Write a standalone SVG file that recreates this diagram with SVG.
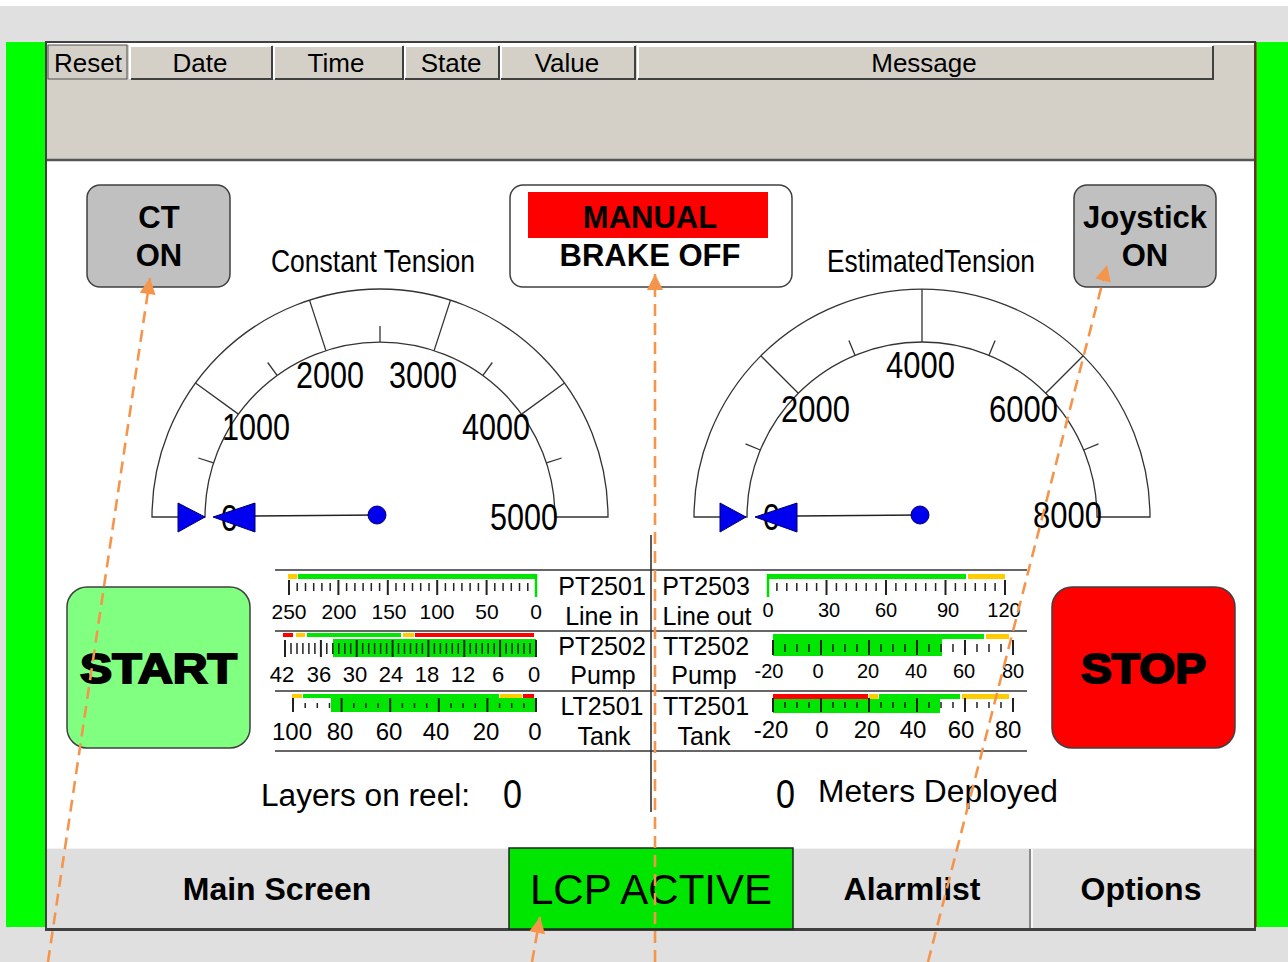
<svg xmlns="http://www.w3.org/2000/svg" width="1288" height="962" viewBox="0 0 1288 962">
  <defs>
    <style>
      text { font-family: "Liberation Sans", Arial, sans-serif; fill: #000; }
      .hdr { font-size: 26px; text-anchor: middle; }
      .btn { font-size: 31px; font-weight: bold; text-anchor: middle; }
      .nav { font-size: 32px; font-weight: bold; text-anchor: middle; }
      .glabel { font-size: 37px; }
      .gtitle { font-size: 32px; }
      .tag { font-size: 25px; text-anchor: middle; }
      .sc { font-size: 21px; text-anchor: middle; }
      .sc20 { font-size: 20px; text-anchor: middle; }
      .sc22 { font-size: 22px; text-anchor: middle; }
      .sc24 { font-size: 24px; text-anchor: middle; }
      .big { font-size: 31px; }
      .cell { fill: #d4d0c8; }
      .hi { stroke: #ffffff; stroke-width: 2; fill: none; }
      .lo { stroke: #404040; stroke-width: 2; fill: none; }
      .band { fill: #ffffff; stroke: #333333; stroke-width: 1.3; }
      .tk { stroke: #333333; stroke-width: 1.3; fill: none; }
      .ts { stroke: #222222; stroke-width: 1.5; fill: none; }
      .tl { stroke: #222222; stroke-width: 2; fill: none; }
      .zero { stroke: #00dd00; stroke-width: 2.5; }
      .grid { stroke: #333333; stroke-width: 1.6; }
      .g { fill: #00e600; }
      .y { fill: #ffcc00; }
      .r { fill: #ff0000; }
      .tri { fill: #0000ee; stroke: #00006a; stroke-width: 1; }
      .conn { fill: none; stroke: #f5954c; stroke-width: 2.6; stroke-dasharray: 12 7; }
    </style>
    <marker id="ah" viewBox="0 0 10 10" refX="10" refY="5" markerUnits="userSpaceOnUse" markerWidth="17" markerHeight="16" orient="auto">
      <path d="M0,0 L10,5 L0,10 Z" fill="#f5954c"/>
    </marker>
  </defs>

  <!-- screen surround -->
  <rect x="0" y="0" width="1288" height="962" fill="#e0e0e0"/>
  <rect x="0" y="0" width="1288" height="6" fill="#ffffff"/>
  <rect x="6" y="42" width="40" height="885" fill="#00ff00"/>
  <rect x="1256" y="42" width="32" height="885" fill="#00ff00"/>

  <!-- panel -->
  <rect x="46" y="42" width="1209" height="888" fill="#ffffff" stroke="#404040" stroke-width="2"/>
  <line x1="1256" y1="42" x2="1256" y2="927" stroke="#cc0000" stroke-width="1"/>

  <!-- alarm header -->
  <g id="alarm-header">
    <rect x="47" y="43" width="1207" height="117" fill="#d4d0c8"/>
    <line x1="47" y1="44" x2="1254" y2="44" class="hi"/>
    <line x1="47" y1="160" x2="1254" y2="160" stroke="#555555" stroke-width="2.5"/>
    <g id="col-reset">
      <rect x="48" y="45" width="79" height="34" class="cell" stroke="#505050" stroke-width="1"/>
      <text x="88" y="72" class="hdr">Reset</text>
    </g>
    <g id="col-date">
      <rect x="130" y="45" width="142" height="34" class="cell"/>
      <polyline points="130,79 130,46 272,46" class="hi"/>
      <polyline points="131,79 272,79 272,46" class="lo"/>
      <text x="200" y="72" class="hdr">Date</text>
    </g>
    <g id="col-time">
      <rect x="274" y="45" width="129" height="34" class="cell"/>
      <polyline points="274,79 274,46 403,46" class="hi"/>
      <polyline points="275,79 403,79 403,46" class="lo"/>
      <text x="336" y="72" class="hdr">Time</text>
    </g>
    <g id="col-state">
      <rect x="404" y="45" width="95" height="34" class="cell"/>
      <polyline points="405,79 405,46 499,46" class="hi"/>
      <polyline points="405,79 499,79 499,46" class="lo"/>
      <text x="451" y="72" class="hdr">State</text>
    </g>
    <g id="col-value">
      <rect x="500" y="45" width="135" height="34" class="cell"/>
      <polyline points="501,79 501,46 635,46" class="hi"/>
      <polyline points="501,79 635,79 635,46" class="lo"/>
      <text x="567" y="72" class="hdr">Value</text>
    </g>
    <g id="col-message">
      <rect x="637" y="45" width="576" height="34" class="cell"/>
      <polyline points="638,79 638,46 1213,46" class="hi"/>
      <polyline points="638,79 1213,79 1213,46" class="lo"/>
      <text x="924" y="72" class="hdr">Message</text>
    </g>
  </g>

  <!-- status indicators -->
  <g id="ct-on">
    <rect x="87" y="185" width="143" height="102" rx="13" fill="#c0c0c0" stroke="#404040" stroke-width="1.5"/>
    <text x="159" y="228" class="btn">CT</text>
    <text x="159" y="266" class="btn">ON</text>
  </g>
  <g id="brake-mode">
    <rect x="510" y="185" width="282" height="102" rx="13" fill="#ffffff" stroke="#404040" stroke-width="1.5"/>
    <rect x="528" y="192" width="240" height="46" fill="#ff0000"/>
    <text x="650" y="228" class="btn">MANUAL</text>
    <text x="650" y="266" class="btn">BRAKE OFF</text>
  </g>
  <g id="joystick-on">
    <rect x="1074" y="185" width="142" height="102" rx="13" fill="#c0c0c0" stroke="#404040" stroke-width="1.5"/>
    <text x="1145" y="228" class="btn">Joystick</text>
    <text x="1145" y="266" class="btn">ON</text>
  </g>

  <!-- constant tension gauge, 0..5000 -->
  <g id="gauge-constant-tension">
    <text x="271" y="272" class="gtitle" textLength="204" lengthAdjust="spacingAndGlyphs">Constant Tension</text>
    <path d="M152,517 A228,228 0 0 1 608,517 L555,517 A175,175 0 0 0 205,517 Z" class="band"/>
    <path class="tk" d="M238.4,414.1 L195.5,383 M325.9,350.6 L309.5,300.1 M434.1,350.6 L450.5,300.1 M521.6,414.1 L564.5,383
                        M213.6,462.9 L198.3,458 M277.1,375.4 L267.7,362.5 M380,342 L380,326 M482.9,375.4 L492.3,362.5 M546.4,462.9 L561.7,458"/>
    <text x="221" y="531" class="glabel" textLength="17" lengthAdjust="spacingAndGlyphs">0</text>
    <text x="222" y="440" class="glabel" textLength="68" lengthAdjust="spacingAndGlyphs">1000</text>
    <text x="296" y="388" class="glabel" textLength="68" lengthAdjust="spacingAndGlyphs">2000</text>
    <text x="389" y="388" class="glabel" textLength="68" lengthAdjust="spacingAndGlyphs">3000</text>
    <text x="462" y="440" class="glabel" textLength="68" lengthAdjust="spacingAndGlyphs">4000</text>
    <text x="490" y="530" class="glabel" textLength="68" lengthAdjust="spacingAndGlyphs">5000</text>
    <line x1="255" y1="516" x2="377" y2="515" stroke="#222222" stroke-width="1.5"/>
    <circle cx="377" cy="515" r="9" fill="#0000ee" stroke="#00006a" stroke-width="1"/>
    <polygon points="178,503 178,532 205,517" class="tri"/>
    <polygon points="213,517 255,503 255,532" class="tri"/>
  </g>

  <!-- estimated tension gauge, 0..8000 -->
  <g id="gauge-estimated-tension">
    <text x="827" y="272" class="gtitle" textLength="208" lengthAdjust="spacingAndGlyphs">EstimatedTension</text>
    <path d="M694,517 A228,228 0 0 1 1150,517 L1097,517 A175,175 0 0 0 747,517 Z" class="band"/>
    <path class="tk" d="M798.3,393.3 L760.8,355.8 M922,342 L922,289 M1045.7,393.3 L1083.2,355.8
                        M760.3,450 L745.5,443.9 M855,355.3 L848.9,340.5 M989,355.3 L995.1,340.5 M1083.7,450 L1098.5,443.9"/>
    <text x="763" y="530" class="glabel" textLength="17" lengthAdjust="spacingAndGlyphs">0</text>
    <text x="781" y="422" class="glabel" textLength="69" lengthAdjust="spacingAndGlyphs">2000</text>
    <text x="886" y="378" class="glabel" textLength="69" lengthAdjust="spacingAndGlyphs">4000</text>
    <text x="989" y="422" class="glabel" textLength="69" lengthAdjust="spacingAndGlyphs">6000</text>
    <text x="1033" y="528" class="glabel" textLength="69" lengthAdjust="spacingAndGlyphs">8000</text>
    <line x1="797" y1="516" x2="920" y2="515" stroke="#222222" stroke-width="1.5"/>
    <circle cx="920" cy="515" r="9" fill="#0000ee" stroke="#00006a" stroke-width="1"/>
    <polygon points="720,503 720,532 746,517" class="tri"/>
    <polygon points="755,517 797,503 797,532" class="tri"/>
  </g>

  <!-- start / stop -->
  <g id="start-button">
    <rect x="67" y="587" width="183" height="161" rx="20" fill="#80ff80" stroke="#404040" stroke-width="1.5"/>
    <text x="80" y="683" font-size="42" font-weight="bold" stroke="#000" stroke-width="2" textLength="157" lengthAdjust="spacingAndGlyphs">START</text>
  </g>
  <g id="stop-button">
    <rect x="1052" y="587" width="183" height="161" rx="20" fill="#ff0000" stroke="#404040" stroke-width="1.5"/>
    <text x="1081" y="683" font-size="42" font-weight="bold" stroke="#000" stroke-width="2" textLength="125" lengthAdjust="spacingAndGlyphs">STOP</text>
  </g>

  <!-- bar graph grid -->
  <g id="bar-grid">
    <line x1="275" y1="570" x2="1027" y2="570" class="grid"/>
    <line x1="275" y1="631" x2="1027" y2="631" class="grid"/>
    <line x1="275" y1="691" x2="1027" y2="691" class="grid"/>
    <line x1="275" y1="751" x2="1027" y2="751" class="grid"/>
    <line x1="651" y1="535" x2="651" y2="812" class="grid"/>
  </g>

  <!-- PT2501 line in, 250..0 -->
  <g id="pt2501">
    <rect x="288" y="574" width="9" height="5" class="y"/>
    <rect x="298" y="574" width="238" height="5" class="g"/>
    <path class="ts" d="M297.2,583V591M305.5,583V591M313.7,583V591M321.9,583V591M330.2,583V591M346.6,583V591M354.9,583V591M363.1,583V591M371.3,583V591M379.6,583V591M396,583V591M404.3,583V591M412.5,583V591M420.7,583V591M429,583V591M445.4,583V591M453.7,583V591M461.9,583V591M470.1,583V591M478.4,583V591M494.8,583V591M503.1,583V591M511.3,583V591M519.5,583V591M527.8,583V591"/>
    <path class="tl" d="M289,580V595M338.4,580V595M387.8,580V595M437.2,580V595M486.6,580V595"/>
    <line x1="536" y1="574" x2="536" y2="597" class="zero"/>
    <text x="289" y="619" class="sc">250</text>
    <text x="339" y="619" class="sc">200</text>
    <text x="389" y="619" class="sc">150</text>
    <text x="437" y="619" class="sc">100</text>
    <text x="487" y="619" class="sc">50</text>
    <text x="536" y="619" class="sc">0</text>
    <text x="602" y="595" class="tag">PT2501</text>
    <text x="602" y="625" class="tag">Line in</text>
  </g>

  <!-- PT2502 pump, 42..0 -->
  <g id="pt2502">
    <rect x="283" y="633" width="10" height="4" class="r"/>
    <rect x="296" y="633" width="9" height="4" class="y"/>
    <rect x="307" y="633" width="94" height="4" class="g"/>
    <rect x="403" y="633" width="11" height="4" class="y"/>
    <rect x="415" y="633" width="119" height="4" class="r"/>
    <rect x="333" y="639" width="203" height="18" class="g"/>
    <path class="ts" d="M291,643V654M297,643V654M302.9,643V654M308.9,643V654M314.9,643V654M326.8,643V654M332.8,643V654M338.8,643V654M344.8,643V654M350.7,643V654M362.7,643V654M368.7,643V654M374.6,643V654M380.6,643V654M386.6,643V654M398.5,643V654M404.5,643V654M410.5,643V654M416.5,643V654M422.4,643V654M434.4,643V654M440.4,643V654M446.4,643V654M452.3,643V654M458.3,643V654M470.3,643V654M476.2,643V654M482.2,643V654M488.2,643V654M494.2,643V654M506.1,643V654M512.1,643V654M518.1,643V654M524,643V654M530,643V654"/>
    <path class="tl" d="M285,640V657M320.9,640V657M356.7,640V657M392.6,640V657M428.4,640V657M464.3,640V657M500.1,640V657M536,640V657"/>
    <text x="282" y="682" class="sc22">42</text>
    <text x="319" y="682" class="sc22">36</text>
    <text x="355" y="682" class="sc22">30</text>
    <text x="391" y="682" class="sc22">24</text>
    <text x="427" y="682" class="sc22">18</text>
    <text x="463" y="682" class="sc22">12</text>
    <text x="498" y="682" class="sc22">6</text>
    <text x="534" y="682" class="sc22">0</text>
    <text x="602" y="655" class="tag">PT2502</text>
    <text x="603" y="684" class="tag">Pump</text>
  </g>

  <!-- LT2501 tank, 100..0 -->
  <g id="lt2501">
    <rect x="292" y="694" width="10" height="4" class="y"/>
    <rect x="303" y="694" width="196" height="4" class="g"/>
    <rect x="500" y="694" width="22" height="4" class="y"/>
    <rect x="523" y="694" width="11" height="4" class="r"/>
    <rect x="331" y="698" width="205" height="14" class="g"/>
    <path class="ts" d="M305.2,703V708M317.3,703V708M329.5,703V708M353.8,703V708M365.9,703V708M378.1,703V708M402.4,703V708M414.5,703V708M426.7,703V708M451,703V708M463.1,703V708M475.3,703V708M499.6,703V708M511.7,703V708M523.9,703V708"/>
    <path class="tl" d="M293,698V712M341.6,698V712M390.2,698V712M438.8,698V712M487.4,698V712M536,698V712"/>
    <text x="292" y="740" class="sc24">100</text>
    <text x="340" y="740" class="sc24">80</text>
    <text x="389" y="740" class="sc24">60</text>
    <text x="436" y="740" class="sc24">40</text>
    <text x="486" y="740" class="sc24">20</text>
    <text x="535" y="740" class="sc24">0</text>
    <text x="602" y="715" class="tag">LT2501</text>
    <text x="604" y="745" class="tag">Tank</text>
  </g>

  <!-- PT2503 line out, 0..120 -->
  <g id="pt2503">
    <rect x="767" y="574" width="199" height="5" class="g"/>
    <rect x="968" y="574" width="37" height="5" class="y"/>
    <path class="ts" d="M776.9,583V591M786.8,583V591M796.8,583V591M806.7,583V591M816.6,583V591M836.4,583V591M846.3,583V591M856.3,583V591M866.2,583V591M876.1,583V591M895.9,583V591M905.8,583V591M915.8,583V591M925.7,583V591M935.6,583V591M955.4,583V591M965.3,583V591M975.3,583V591M985.2,583V591M995.1,583V591"/>
    <path class="tl" d="M826.5,580V595M886,580V595M945.5,580V595M1005,580V595"/>
    <line x1="768" y1="574" x2="768" y2="597" class="zero"/>
    <text x="768" y="617" class="sc20">0</text>
    <text x="829" y="617" class="sc20">30</text>
    <text x="886" y="617" class="sc20">60</text>
    <text x="948" y="617" class="sc20">90</text>
    <text x="1004" y="617" class="sc20">120</text>
    <text x="706" y="595" class="tag">PT2503</text>
    <text x="707" y="625" class="tag">Line out</text>
  </g>

  <!-- TT2502 pump temperature, -20..80 -->
  <g id="tt2502">
    <rect x="773" y="634" width="211" height="5" class="g"/>
    <rect x="986" y="634" width="23" height="5" class="y"/>
    <rect x="773" y="638" width="169" height="18" class="g"/>
    <path class="ts" d="M785,644V652M797,644V652M809,644V652M833,644V652M845,644V652M857,644V652M881,644V652M893,644V652M905,644V652M929,644V652M941,644V652M953,644V652M977,644V652M989,644V652M1001,644V652"/>
    <path class="tl" d="M773,640V655M821,640V655M869,640V655M917,640V655M965,640V655M1013,640V655"/>
    <text x="769" y="678" class="sc20">-20</text>
    <text x="818" y="678" class="sc20">0</text>
    <text x="868" y="678" class="sc20">20</text>
    <text x="916" y="678" class="sc20">40</text>
    <text x="964" y="678" class="sc20">60</text>
    <text x="1013" y="678" class="sc20">80</text>
    <text x="706" y="655" class="tag">TT2502</text>
    <text x="704" y="684" class="tag">Pump</text>
  </g>

  <!-- TT2501 tank temperature, -20..80 -->
  <g id="tt2501">
    <rect x="773" y="694" width="95" height="5" class="r"/>
    <rect x="869" y="694" width="9" height="5" class="y"/>
    <rect x="879" y="694" width="81" height="5" class="g"/>
    <rect x="962" y="694" width="47" height="5" class="y"/>
    <rect x="773" y="699" width="167" height="14" class="g"/>
    <path class="ts" d="M785,702V708M797,702V708M809,702V708M833,702V708M845,702V708M857,702V708M881,702V708M893,702V708M905,702V708M929,702V708M941,702V708M953,702V708M977,702V708M989,702V708M1001,702V708"/>
    <path class="tl" d="M773,698V712M821,698V712M869,698V712M917,698V712M965,698V712M1013,698V712"/>
    <text x="771" y="738" class="sc24">-20</text>
    <text x="822" y="738" class="sc24">0</text>
    <text x="867" y="738" class="sc24">20</text>
    <text x="913" y="738" class="sc24">40</text>
    <text x="961" y="738" class="sc24">60</text>
    <text x="1008" y="738" class="sc24">80</text>
    <text x="706" y="715" class="tag">TT2501</text>
    <text x="704" y="745" class="tag">Tank</text>
  </g>

  <!-- counters -->
  <g id="layers-on-reel">
    <text x="261" y="806" class="big" textLength="209" lengthAdjust="spacingAndGlyphs">Layers on reel:</text>
    <text x="503" y="808" font-size="40" textLength="19" lengthAdjust="spacingAndGlyphs">0</text>
  </g>
  <g id="meters-deployed">
    <text x="776" y="808" font-size="40" textLength="19" lengthAdjust="spacingAndGlyphs">0</text>
    <text x="818" y="802" class="big" textLength="240" lengthAdjust="spacingAndGlyphs">Meters Deployed</text>
  </g>

  <!-- navigation bar -->
  <g id="nav-bar">
    <rect x="47" y="848" width="1207" height="81" fill="#dedede"/>
    <line x1="47" y1="848.5" x2="1254" y2="848.5" stroke="#f2f2f2" stroke-width="1"/>
    <line x1="47" y1="929" x2="1255" y2="929" stroke="#404040" stroke-width="2"/>
    <g id="nav-main-screen">
      <text x="277" y="900" class="nav">Main Screen</text>
    </g>
    <g id="nav-lcp-active">
      <rect x="509" y="848" width="284" height="81" fill="#00e600" stroke="#222222" stroke-width="1.5"/>
      <text x="651" y="904" font-size="42" text-anchor="middle">LCP ACTIVE</text>
    </g>
    <g id="nav-alarmlist">
      <line x1="1030" y1="849" x2="1030" y2="928" stroke="#8a8a8a" stroke-width="2"/>
      <line x1="1032" y1="849" x2="1032" y2="928" stroke="#ffffff" stroke-width="1.5"/>
      <text x="912" y="900" class="nav">Alarmlist</text>
    </g>
    <g id="nav-options">
      <text x="1141" y="900" class="nav">Options</text>
    </g>
  </g>

  <!-- connectors -->
  <g id="connectors">
    <path d="M48,962 L150,278" class="conn" marker-end="url(#ah)"/>
    <path d="M532,962 L540,917" class="conn" marker-end="url(#ah)"/>
    <path d="M655,962 L655,274" class="conn" marker-end="url(#ah)"/>
    <path d="M928,962 L1107,265" class="conn" marker-end="url(#ah)"/>
  </g>
</svg>
